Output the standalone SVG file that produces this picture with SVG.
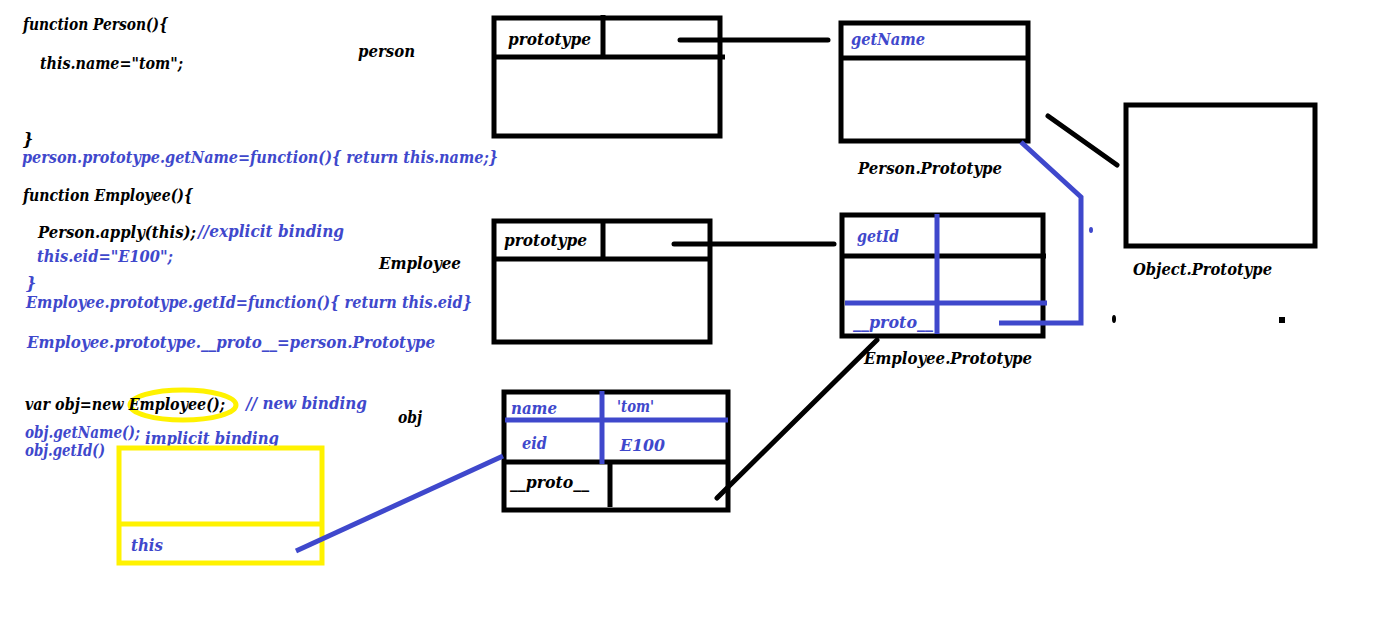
<svg xmlns="http://www.w3.org/2000/svg" width="1382" height="632" viewBox="0 0 1382 632">
<style>
text{font-family:"DejaVu Serif","Liberation Serif",serif;font-weight:bold;font-style:italic;font-size:16px;}
.k{fill:#000}
.b{fill:#3F48CC}
.box{fill:none;stroke:#000;stroke-width:5}
.bl{stroke:#000;stroke-width:5;stroke-linecap:round;fill:none}
.bu{stroke:#3F48CC;stroke-width:5;fill:none}
.y{fill:none;stroke:#FFF200;stroke-width:5}
</style>
<rect width="1382" height="632" fill="#fff"/>
<g id="code">
<ellipse cx="183" cy="405" rx="53" ry="15" class="y"/>
<text class="k" x="23" y="30" textLength="145" lengthAdjust="spacingAndGlyphs">function Person(){</text>
<text class="k" x="40" y="69" textLength="143" lengthAdjust="spacingAndGlyphs">this.name="tom";</text>
<text class="k" x="23" y="145">}</text>
<text class="b" x="22" y="163" textLength="476" lengthAdjust="spacingAndGlyphs">person.prototype.getName=function(){ return this.name;}</text>
<text class="k" x="23" y="201" textLength="170" lengthAdjust="spacingAndGlyphs">function Employee(){</text>
<text class="k" x="38" y="238" textLength="158" lengthAdjust="spacingAndGlyphs">Person.apply(this);</text>
<text class="b" x="198" y="237" textLength="146" lengthAdjust="spacingAndGlyphs">//explicit binding</text>
<text class="b" x="37" y="262" textLength="136" lengthAdjust="spacingAndGlyphs">this.eid="E100";</text>
<text class="b" x="26" y="289">}</text>
<text class="b" x="26" y="308" textLength="446" lengthAdjust="spacingAndGlyphs">Employee.prototype.getId=function(){ return this.eid}</text>
<text class="b" x="27" y="348" textLength="408" lengthAdjust="spacingAndGlyphs">Employee.prototype.__proto__=person.Prototype</text>
<text class="k" x="25" y="410" textLength="200" lengthAdjust="spacingAndGlyphs">var obj=new Employee();</text>
<text class="b" x="246" y="409" textLength="121" lengthAdjust="spacingAndGlyphs">// new binding</text>
<text class="b" x="25" y="438" textLength="115" lengthAdjust="spacingAndGlyphs">obj.getName();</text>
<text class="b" x="145" y="444" textLength="134" lengthAdjust="spacingAndGlyphs">implicit binding</text>
<text class="b" x="25" y="456" textLength="80" lengthAdjust="spacingAndGlyphs">obj.getId()</text>
</g>
<g id="this-box">
<rect x="119" y="448" width="203" height="115" class="y"/>
<line x1="119" y1="524" x2="322" y2="524" class="y"/>
<text class="b" x="131" y="551" textLength="32" lengthAdjust="spacingAndGlyphs">this</text>
</g>
<g id="labels">
<text class="k" x="358" y="57" textLength="57" lengthAdjust="spacingAndGlyphs">person</text>
<text class="k" x="379" y="269" textLength="82" lengthAdjust="spacingAndGlyphs">Employee</text>
<text class="k" x="398" y="423" textLength="24" lengthAdjust="spacingAndGlyphs">obj</text>
</g>
<g id="person">
<rect x="494" y="18" width="226" height="118" class="box"/>
<line x1="494" y1="57" x2="725" y2="57" class="box"/>
<line x1="603" y1="15" x2="603" y2="59" class="box"/>
<text class="k" x="508" y="45" textLength="83" lengthAdjust="spacingAndGlyphs">prototype</text>
</g>
<g id="person-prototype">
<rect x="841" y="23" width="187" height="118" class="box"/>
<line x1="841" y1="58" x2="1028" y2="58" class="box"/>
<text class="b" x="851" y="45" textLength="74" lengthAdjust="spacingAndGlyphs">getName</text>
<text class="k" x="858" y="174" textLength="144" lengthAdjust="spacingAndGlyphs">Person.Prototype</text>
</g>
<g id="object-prototype">
<rect x="1126" y="105" width="189" height="141" class="box"/>
<text class="k" x="1133" y="275" textLength="139" lengthAdjust="spacingAndGlyphs">Object.Prototype</text>
</g>
<g id="employee">
<rect x="494" y="221" width="216" height="121" class="box"/>
<line x1="494" y1="259" x2="710" y2="259" class="box"/>
<line x1="603" y1="221" x2="603" y2="259" class="box"/>
<text class="k" x="504" y="246" textLength="83" lengthAdjust="spacingAndGlyphs">prototype</text>
</g>
<g id="employee-prototype">
<rect x="842" y="215" width="201" height="121" class="box"/>
<line x1="842" y1="256" x2="1046" y2="256" class="box"/>
<line x1="937" y1="214" x2="937" y2="334" class="bu"/>
<line x1="845" y1="303" x2="1047" y2="303" class="bu"/>
<text class="b" x="857" y="242" textLength="42" lengthAdjust="spacingAndGlyphs">getId</text>
<text class="b" x="853" y="328" textLength="80" lengthAdjust="spacingAndGlyphs">__proto__</text>
<text class="k" x="864" y="364" textLength="168" lengthAdjust="spacingAndGlyphs">Employee.Prototype</text>
</g>
<g id="obj">
<rect x="504" y="392" width="224" height="118" class="box"/>
<line x1="504" y1="462" x2="728" y2="462" class="box"/>
<line x1="610" y1="462" x2="610" y2="507" class="box"/>
<line x1="505" y1="420" x2="728" y2="420" class="bu"/>
<line x1="602" y1="391" x2="602" y2="464" class="bu"/>
<text class="b" x="511" y="414" textLength="46" lengthAdjust="spacingAndGlyphs">name</text>
<text class="b" x="617" y="412" textLength="37" lengthAdjust="spacingAndGlyphs">'tom'</text>
<text class="b" x="522" y="449" textLength="25" lengthAdjust="spacingAndGlyphs">eid</text>
<text class="b" x="620" y="451" textLength="45" lengthAdjust="spacingAndGlyphs">E100</text>
<text class="k" x="510" y="488" textLength="79" lengthAdjust="spacingAndGlyphs">__proto__</text>
</g>
<g id="connectors">
<line x1="680" y1="40" x2="828" y2="40" class="bl"/>
<line x1="674" y1="244" x2="834" y2="244" class="bl"/>
<line x1="1048" y1="116" x2="1117" y2="165" class="bl"/>
<line x1="877" y1="340" x2="717" y2="498" class="bl"/>
<polyline points="1021,142 1081,197 1081,323 999,323" class="bu"/>
<line x1="296" y1="551" x2="503" y2="456" class="bu"/>
<ellipse cx="1091" cy="230" rx="2" ry="3" fill="#3F48CC"/>
<ellipse cx="1114" cy="319" rx="2" ry="4" fill="#000"/>
<rect x="1279" y="317" width="6" height="6" fill="#000"/>
</g>
</svg>
